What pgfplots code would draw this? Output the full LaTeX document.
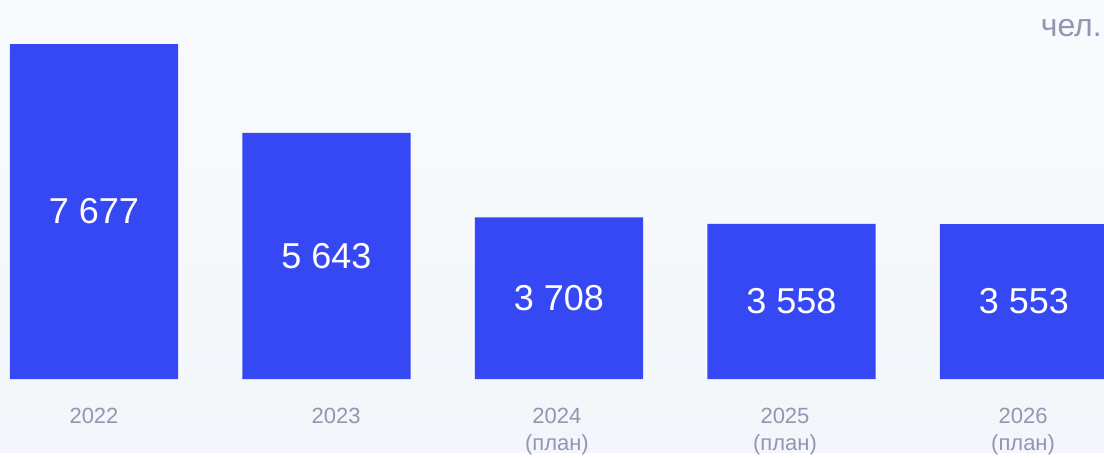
\documentclass[border=0pt]{standalone}
\usepackage{pgfplots}
\pgfplotsset{compat=1.18}
\usepackage{fontspec}
\setmainfont{Liberation Sans}
\definecolor{barblue}{HTML}{3548F4}
\definecolor{labgray}{HTML}{9297B1}
\definecolor{bgtop}{HTML}{F9FAFD}
\definecolor{bgbot}{HTML}{F3F6FA}
\begin{document}
\begin{tikzpicture}
  % background, 1px = 1pt
  \fill[top color=bgtop, bottom color=bgbot, draw=none] (0pt,0pt) rectangle (1104pt,452pt);
  \begin{axis}[
      at={(0pt,73pt)}, anchor=south west,
      scale only axis,
      width=1104pt, height=379pt,
      ybar, bar width=168pt,
      xmin=-0.4043, xmax=4.344,
      ymin=0, ymax=8685.6,
      axis line style={draw=none},
      major tick length=0pt,
      ytick=\empty,
      xtick={0,1.041,1.991,2.972,3.996},
      xticklabels={{2022\\\mbox{}},{2023\\\mbox{}},{2024\\(план)},{2025\\(план)},{2026\\(план)}},
      xticklabel style={font=\fontsize{22pt}{27pt}\selectfont, text=labgray,
        align=center, anchor=base, yshift=-71pt},
      nodes near coords,
      point meta=explicit symbolic,
      visualization depends on={rawy/2 \as \halfy},
      every node near coord/.append style={font=\fontsize{36pt}{40pt}\selectfont,
        text=white, anchor=center, shift={(axis direction cs:0,-\halfy)}},
    ]
    \addplot[fill=barblue, draw=none] coordinates {
      (0,7677) [7 677]
      (1,5643) [5 643]
      (2,3708) [3 708]
      (3,3558) [3 558]
      (4,3553) [3 553]
    };
  \end{axis}
  \node[anchor=base east, text=labgray, font=\fontsize{32pt}{36pt}\selectfont, inner sep=0pt]
    at (1102pt,416pt) {чел.};
\end{tikzpicture}
\end{document}
